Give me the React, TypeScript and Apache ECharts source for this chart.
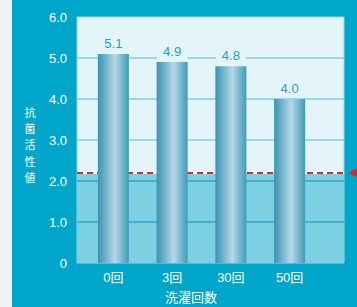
import React, { useEffect, useRef } from "react";
import * as echarts from "echarts";

const categories = ["0回", "3回", "30回", "50回"];
const values = [5.1, 4.9, 4.8, 4.0];
const yTicks = [0, 1, 2, 3, 4, 5, 6];
const threshold = 2.2;
const yName = "抗菌活性値";
const xName = "洗濯回数";

const FONT = "'Liberation Sans', 'Noto Sans CJK JP', sans-serif";

export default function App() {
  const ref = useRef<HTMLDivElement>(null);
  useEffect(() => {
    if (!ref.current) return;
    const chart = echarts.init(ref.current, undefined, { renderer: "svg" });
    const gridTop = 17;
    const gridBottom = 44;
    const darkLine = "#2fa6c7";
    const lightLine = "#7fcfe0";
    const nameGraphics: any[] = yName.split("").map((ch, i) => ({
      type: "text",
      x: 30,
      y: 112 + i * 16.2,
      style: {
        text: ch,
        fill: "#ffffff",
        font: "11px 'Noto Sans CJK JP', sans-serif",
        align: "center",
        verticalAlign: "middle",
      },
    }));
    nameGraphics.push({
      type: "text",
      x: 191,
      y: 296,
      style: {
        text: xName,
        fill: "#ffffff",
        font: "13px 'Noto Sans CJK JP', sans-serif",
        align: "center",
        verticalAlign: "middle",
      },
    });
    const option: any = {
      animation: false,
      backgroundColor: "transparent",
      grid: [
        {
          left: 77,
          right: 13,
          top: gridTop,
          bottom: gridBottom,
          show: true,
          backgroundColor: "#e3f5f9",
          borderColor: "#8fd7e7",
          borderWidth: 1,
        },
        { left: 84, width: 235, top: gridTop, bottom: gridBottom },
      ],
      xAxis: [
        { gridIndex: 0, type: "value", min: 0, max: 1, show: false },
        {
          gridIndex: 1,
          type: "category",
          data: categories,
          axisLine: { show: false },
          axisTick: { show: false },
          axisLabel: { color: "#ffffff", fontSize: 13, fontFamily: FONT, margin: 8 },
        },
      ],
      yAxis: [
        {
          gridIndex: 0,
          type: "value",
          min: yTicks[0],
          max: yTicks[yTicks.length - 1],
          interval: 1,
          axisLine: { show: false },
          axisTick: { show: false },
          splitLine: { show: false },
          axisLabel: {
            color: "#ffffff",
            fontSize: 13,
            fontFamily: FONT,
            margin: 10,
            formatter: (v: number) => (v === 0 ? "0" : v.toFixed(1)),
          },
        },
        {
          gridIndex: 1,
          type: "value",
          min: yTicks[0],
          max: yTicks[yTicks.length - 1],
          show: false,
        },
      ],
      series: [
        {
          type: "line",
          xAxisIndex: 0,
          yAxisIndex: 0,
          data: [[0, 0]],
          symbol: "none",
          lineStyle: { opacity: 0 },
          silent: true,
          z: 1,
          markArea: {
            silent: true,
            itemStyle: { color: "#7dd0e2", opacity: 1 },
            data: [[{ yAxis: yTicks[0] }, { yAxis: threshold }]],
          },
        },
        {
          type: "line",
          xAxisIndex: 0,
          yAxisIndex: 0,
          data: [[0, 0]],
          symbol: "none",
          lineStyle: { opacity: 0 },
          silent: true,
          z: 2,
          markLine: {
            silent: true,
            symbol: "none",
            label: { show: false },
            data: yTicks
              .filter((t) => t > yTicks[0] && t < yTicks[yTicks.length - 1])
              .map((t) => ({
                yAxis: t,
                lineStyle: { color: t < threshold ? darkLine : lightLine, width: 1.5, type: "solid" },
              })),
          },
        },
        {
          type: "line",
          xAxisIndex: 0,
          yAxisIndex: 0,
          data: [[0, 0]],
          symbol: "none",
          lineStyle: { opacity: 0 },
          silent: true,
          z: 3,
          markLine: {
            silent: true,
            symbol: "none",
            label: { show: false },
            data: [
              { yAxis: threshold, lineStyle: { color: "#f4fbfd", width: 2, type: "solid" } },
              { yAxis: threshold, lineStyle: { color: "#d52b2b", width: 2, type: [6, 4] } },
            ],
          },
        },
        {
          type: "bar",
          xAxisIndex: 1,
          yAxisIndex: 1,
          data: values,
          barWidth: 31,
          z: 5,
          itemStyle: {
            color: new echarts.graphic.LinearGradient(0, 0, 1, 0, [
              { offset: 0, color: "#3893b3" },
              { offset: 0.55, color: "#b6d8e6" },
              { offset: 1, color: "#3e9bba" },
            ]),
          },
          label: {
            show: true,
            position: "top",
            distance: 3,
            color: "#2a9dc2",
            fontSize: 13,
            fontFamily: FONT,
            backgroundColor: "#e3f5f9",
            padding: [1, 6],
            formatter: (p: any) => Number(p.value).toFixed(1),
          },
        },
      ],
      graphic: nameGraphics,
    };
    chart.setOption(option);
    const py = chart.convertToPixel({ yAxisIndex: 0 } as any, threshold) as number;
    chart.setOption({
      graphic: [
        ...nameGraphics,
        {
          type: "polygon",
          shape: { points: [[348, py], [357, py - 4.5], [357, py + 4.5]] },
          style: { fill: "#d52b2b" },
        },
      ],
    });
    return () => chart.dispose();
  }, []);
  return (
    <div
      style={{
        position: "fixed",
        left: 0,
        top: 0,
        width: 357,
        height: 307,
        background: "linear-gradient(to right, #f0f2f1 12px, #00a6c9 12px)",
      }}
    >
      <div ref={ref} style={{ width: 357, height: 307 }} />
    </div>
  );
}
